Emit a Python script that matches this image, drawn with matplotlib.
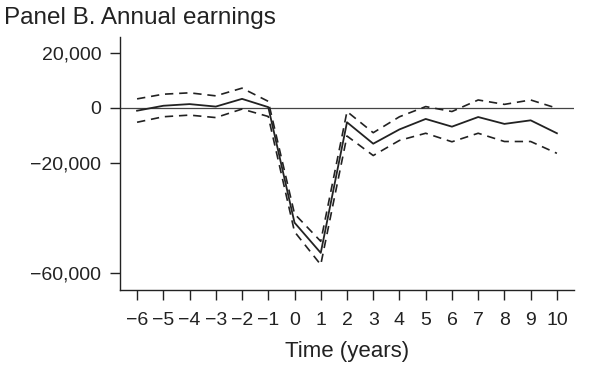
import matplotlib.pyplot as plt
import numpy as np

plt.rcParams['font.family'] = ['Liberation Sans', 'DejaVu Sans']

# Years relative to event and estimates with confidence bands
years = np.arange(-6, 11)
mean = [-1000, 800, 1400, 500, 3300, 300, -41700, -52700, -5200, -13000,
        -7800, -4000, -6800, -3300, -5800, -4500, -9200]
upper = [3300, 5000, 5500, 4400, 7200, 2400, -38500, -48500, -1300, -9000,
         -3200, 500, -1300, 2900, 1300, 2900, -100]
lower = [-5200, -3200, -2600, -3500, -400, -3100, -45000, -57000, -10200, -17300,
         -11800, -9200, -12300, -9200, -12200, -12200, -16500]

yticks = [20000, 0, -20000, -60000]
ink = '#222222'

fig = plt.figure(figsize=(6.01, 3.73), dpi=100)
ax = fig.add_axes([0.1997, 0.2225, 0.7553, 0.6783])

ax.axhline(0, color='#444444', lw=0.9, zorder=1)
ax.plot(years, mean, color=ink, lw=1.3, zorder=3)
ax.plot(years, upper, color=ink, lw=1.2, linestyle=(0, (5, 3.5)), zorder=2)
ax.plot(years, lower, color=ink, lw=1.2, linestyle=(0, (5, 3.5)), zorder=2)

ax.set_xlim(-6.65, 10.65)
ax.set_ylim(-66200, 25800)
ax.set_xticks(years)
ax.set_yticks(yticks)
ax.set_yticklabels([f'{v:,}'.replace('-', '\u2212') for v in yticks])

for s in ['top', 'right']:
    ax.spines[s].set_visible(False)
for s in ['left', 'bottom']:
    ax.spines[s].set_linewidth(1.0)
    ax.spines[s].set_color(ink)

ax.tick_params(axis='both', direction='out', length=7.5, width=1.0,
               color=ink, labelsize=14, labelcolor=ink, pad=6)
ax.tick_params(axis='x', pad=8)
ax.set_xlabel('Time (years)', fontsize=16, color=ink, labelpad=9)

fig.text(4 / 601, 1 - 7 / 373, 'Panel B. Annual earnings', fontsize=17.5,
         color=ink, ha='left', va='top')

fig.savefig('out.png', dpi=100)
